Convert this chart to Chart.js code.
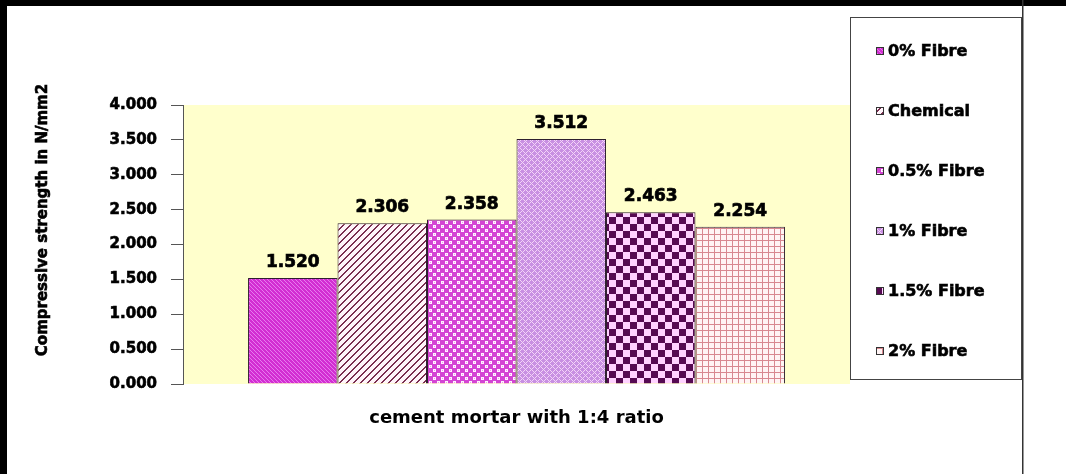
<!DOCTYPE html>
<html>
<head>
<meta charset="utf-8">
<script src="https://cdn.jsdelivr.net/npm/chart.js@4.4.1/dist/chart.umd.min.js"></script>
<style>
    html, body { margin: 0; padding: 0; background: #fff; }
    #chart-wrap { position: relative; width: 1066px; height: 474px; }
</style>
</head>
<body>
<div id="chart-wrap"><canvas id="chart-strength"></canvas></div>
<script>
// values
const categories = ['cement mortar with 1:4 ratio'];
const seriesNames = ['0% Fibre', 'Chemical', '0.5% Fibre', '1% Fibre', '1.5% Fibre', '2% Fibre'];
const strengthValues = [1.520, 2.306, 2.358, 3.512, 2.463, 2.254];
const yAxisTitle = 'Compressive strength in N/mm2';
const yMin = 0, yMax = 4, yStep = 0.5;

const FONT = 'DejaVu Sans';
const canvas = document.getElementById('chart-strength');
const ctx = canvas.getContext('2d');

// small tiles, repeated like the old excel fill patterns
function tile(size, paint) {
    const c = document.createElement('canvas');
    c.width = size;
    c.height = size;
    const g = c.getContext('2d');
    paint(g, size);
    return ctx.createPattern(c, 'repeat');
}

function pixels(g, size, color, test) {
    g.fillStyle = color;
    for (let x = 0; x < size; x++) {
        for (let y = 0; y < size; y++) {
            if (test(x, y)) g.fillRect(x, y, 1, 1);
        }
    }
}

const fills = [
    tile(4, (g, s) => {
        g.fillStyle = '#D22ED2'; g.fillRect(0, 0, s, s);
        pixels(g, s, '#E87AEE', (x, y) => (x - y + s) % s === 0);
    }),
    tile(7, (g, s) => {
        g.fillStyle = '#FFF4FA'; g.fillRect(0, 0, s, s);
        pixels(g, s, '#7A2E50', (x, y) => (x + y) % s < 2);
    }),
    tile(8, (g, s) => {
        g.fillStyle = '#D444D4'; g.fillRect(0, 0, s, s);
        g.fillStyle = '#FFF2FF';
        g.fillRect(1, 1, 3, 3);
        g.fillRect(5, 5, 3, 3);
        g.fillStyle = '#EC9CEC';
        g.fillRect(2, 2, 1, 1);
        g.fillRect(6, 6, 1, 1);
    }),
    tile(6, (g, s) => {
        g.fillStyle = '#C890E2'; g.fillRect(0, 0, s, s);
        pixels(g, s, '#F4D4F8', (x, y) => (x + y) % s === 0 || (x - y + s) % s === 0);
    }),
    tile(14, (g, s) => {
        g.fillStyle = '#FFD2FF'; g.fillRect(0, 0, s, s);
        g.fillStyle = '#560A52';
        g.fillRect(0, 0, 7, 7);
        g.fillRect(7, 7, 7, 7);
    }),
    tile(6, (g, s) => {
        g.fillStyle = '#FFF4F4'; g.fillRect(0, 0, s, s);
        g.fillStyle = '#D88890';
        g.fillRect(0, 0, s, 1);
        g.fillRect(0, 0, 1, s);
    })
];

// heavier text, the source used a very black bold face
function boldText(c, text, x, y) {
    c.fillText(text, x, y);
    c.strokeText(text, x, y);
}

const plotBackground = {
    id: 'plotBackground',
    beforeDraw(chart) {
        const a = chart.chartArea;
        const c = chart.ctx;
        c.save();
        c.fillStyle = '#fff';
        c.fillRect(0, 0, chart.width, chart.height);
        c.fillStyle = '#FFFFCC';
        c.fillRect(a.left, a.top, a.right - a.left, a.bottom - a.top);
        c.restore();
    }
};

const valueLabels = {
    id: 'valueLabels',
    afterDatasetsDraw(chart) {
        const c = chart.ctx;
        c.save();
        c.fillStyle = '#000';
        c.strokeStyle = '#000';
        c.lineWidth = 0.7;
        c.font = 'bold 17px ' + FONT;
        c.textAlign = 'center';
        c.textBaseline = 'alphabetic';
        chart.data.datasets.forEach((ds, i) => {
            const bar = chart.getDatasetMeta(i).data[0];
            boldText(c, ds.data[0].toFixed(3), bar.x, bar.y - 11);
        });
        c.restore();
    }
};

// y title, legend box and the frame round the picture
const decorations = {
    id: 'decorations',
    afterDraw(chart) {
        const c = chart.ctx;
        c.save();

        c.translate(43, 220);
        c.rotate(-Math.PI / 2);
        c.fillStyle = '#000';
        c.strokeStyle = '#000';
        c.lineWidth = 0.6;
        c.font = 'bold 15px ' + FONT;
        c.textAlign = 'center';
        c.textBaseline = 'middle';
        boldText(c, yAxisTitle, 0, 0);
        c.setTransform(1, 0, 0, 1, 0, 0);

        c.fillStyle = '#fff';
        c.fillRect(850, 17, 172, 363);
        c.strokeStyle = '#444';
        c.lineWidth = 1;
        c.strokeRect(850.5, 17.5, 171, 362);

        c.font = 'bold 16px ' + FONT;
        c.textAlign = 'left';
        c.textBaseline = 'middle';
        chart.data.datasets.forEach((ds, i) => {
            const y = 51 + i * 60;
            c.fillStyle = ds.backgroundColor;
            c.fillRect(876, y - 4, 8, 8);
            c.strokeStyle = '#333';
            c.lineWidth = 1;
            c.strokeRect(876.5, y - 3.5, 7, 7);
            c.fillStyle = '#000';
            c.strokeStyle = '#000';
            c.lineWidth = 0.6;
            boldText(c, ds.label, 888, y + 1);
        });

        c.fillStyle = '#000';
        c.fillRect(0, 0, chart.width, 6);
        c.fillRect(0, 0, 7, chart.height);
        c.fillStyle = '#333';
        c.fillRect(1022, 0, 1.5, chart.height);
        c.restore();
    }
};

const inputData = {
    labels: categories,
    datasets: seriesNames.map((name, i) => ({
        label: name,
        data: [strengthValues[i]],
        backgroundColor: fills[i],
        borderColor: '#2E202E',
        borderWidth: 1,
        categoryPercentage: 0.805,
        barPercentage: 1
    }))
};

new Chart(ctx, {
    type: 'bar',
    data: inputData,
    plugins: [plotBackground, valueLabels, decorations],
    options: {
        responsive: true,
        maintainAspectRatio: false,
        animation: false,
        layout: {
            padding: { top: 105, right: 216, bottom: 0, left: 30 }
        },
        plugins: {
            legend: { display: false },
            title: { display: false },
            tooltip: { enabled: false }
        },
        scales: {
            x: {
                ticks: { display: false },
                grid: { display: false },
                border: { display: false },
                title: {
                    display: true,
                    text: categories[0],
                    color: '#000',
                    font: { family: FONT, weight: 'bold', size: 18 },
                    padding: { top: 0, bottom: 45 }
                },
                afterFit: (scale) => { scale.height = 90; }
            },
            y: {
                min: yMin,
                max: yMax,
                ticks: {
                    stepSize: yStep,
                    padding: 14,
                    color: '#000',
                    textStrokeColor: '#000',
                    textStrokeWidth: 0.6,
                    font: { family: FONT, weight: 'bold', size: 15 },
                    callback: (v) => v.toFixed(3)
                },
                grid: {
                    drawOnChartArea: false,
                    tickLength: 12,
                    color: '#555'
                },
                border: { color: '#555', width: 1 },
                afterFit: (scale) => { scale.width = 153; }
            }
        }
    }
});
</script>
</body>
</html>
